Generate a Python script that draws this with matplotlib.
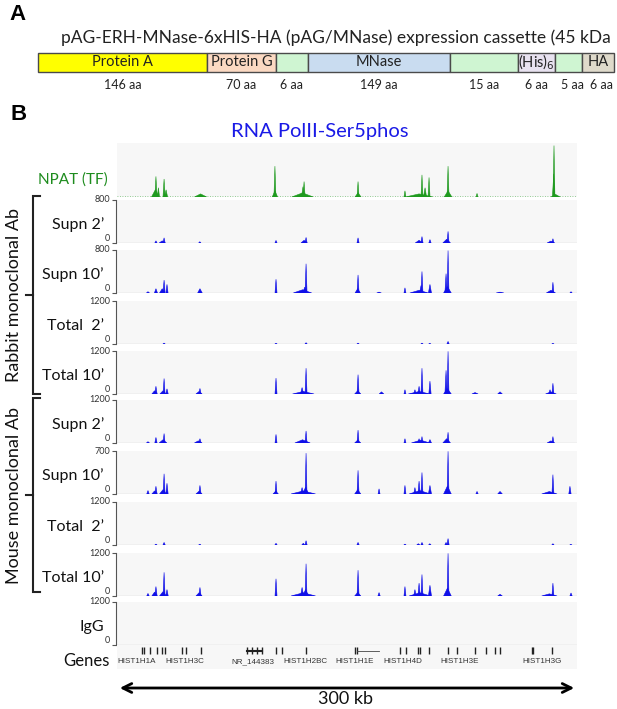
import matplotlib
matplotlib.use("Agg")
import matplotlib.pyplot as plt
from matplotlib.patches import Rectangle

W, H = 617, 709  # output size in pixels

# ---- panel A: expression cassette ----
cassette_title = "pAG-ERH-MNase-6xHIS-HA (pAG/MNase) expression cassette (45 kDa"
segments = ["Protein A", "Protein G", "", "MNase", "", "(His)$_6$", "", "HA"]
segment_aa = [146, 70, 6, 149, 15, 6, 5, 6]
segment_colors = ["#ffff00", "#fbd9c2", "#cff5d2", "#c9dcf0", "#cff5d2", "#e8e2f0", "#cff5d2", "#dfdacb"]

# ---- panel B: genome browser tracks (300 kb window) ----
# each peak: (position kb, signal, base width kb)
npat_peaks = [
    (25.0, 14, 5), (25.4, 40, 1.4), (27.0, 18, 1.5), (30.7, 35, 1.4), (32.0, 14, 2),
    (54.5, 6, 8), (103.0, 60, 1.3), (103.0, 12, 3.5), (121.0, 8, 14), (121.3, 20, 2),
    (122.0, 30, 1.4), (157.2, 30, 1.3), (157.2, 8, 4), (187.8, 12, 1.3), (197.0, 6, 18),
    (198.9, 43, 1.3), (200.9, 18, 2), (203.5, 38, 1.3), (215.9, 60, 1.3), (215.9, 12, 5),
    (234.8, 7, 1.3), (285.0, 100, 1.2), (284.8, 45, 1.6), (286.0, 5, 6),
]
rabbit_supn2 = [
    (25.4, 40, 1.5), (29.5, 40, 4), (30.7, 96, 1.4), (54.0, 24, 1.5), (103.7, 48, 1.4),
    (122.0, 50, 4), (123.3, 104, 1.4), (157.2, 96, 1.4), (197.0, 50, 5), (198.9, 120, 1.4),
    (204.1, 64, 1.5), (215.0, 70, 5), (215.9, 216, 1.3), (283.0, 36, 5), (284.3, 80, 1.4),
]
rabbit_supn10 = [
    (20.2, 24, 2), (25.4, 80, 2), (29.5, 80, 3.5), (30.7, 240, 1.4), (32.6, 160, 1.4),
    (54.1, 80, 3), (103.7, 256, 1.3), (121.0, 60, 12), (122.5, 110, 3), (123.3, 544, 1.3),
    (157.2, 336, 1.3), (157.0, 80, 3.5), (170.9, 16, 3), (187.8, 96, 1.3), (197.0, 50, 12),
    (198.3, 140, 2), (198.9, 400, 1.3), (204.1, 160, 2), (214.6, 360, 1.5), (215.9, 790, 1.2),
    (215.5, 120, 5), (249.8, 16, 5), (283.0, 50, 6), (284.3, 200, 1.3), (296.1, 24, 1.5),
]
rabbit_total2 = [
    (30.7, 24, 1.5), (103.7, 12, 1.5), (123.3, 36, 1.5), (157.2, 24, 1.5), (198.9, 24, 1.5),
    (204.0, 18, 1.5), (215.9, 72, 1.5), (284.3, 18, 1.5),
]
rabbit_total10 = [
    (25.4, 216, 1.5), (24.5, 90, 3.5), (30.7, 432, 1.3), (32.6, 144, 1.6), (30.0, 90, 4),
    (54.1, 156, 1.5), (53.5, 70, 4), (103.7, 444, 1.3), (120.7, 180, 2), (121.5, 70, 14),
    (123.3, 720, 1.3), (157.2, 540, 1.3), (157.0, 90, 4), (172.5, 60, 3), (187.8, 120, 1.3),
    (194.3, 120, 1.6), (197.0, 216, 1.6), (198.9, 720, 1.3), (197.0, 70, 14), (204.1, 360, 1.5),
    (214.6, 660, 1.5), (215.9, 1190, 1.2), (215.5, 150, 5), (233.5, 40, 4), (249.8, 60, 3),
    (282.4, 120, 1.6), (284.3, 300, 1.3), (283.0, 60, 7),
]
mouse_supn2 = [
    (20.2, 36, 2), (25.4, 156, 1.5), (30.7, 264, 1.3), (30.0, 90, 5), (54.1, 120, 1.6),
    (53.0, 60, 5), (103.7, 240, 1.3), (123.3, 336, 1.3), (121.0, 90, 10), (157.2, 360, 1.3),
    (157.0, 80, 4), (187.8, 120, 1.3), (197.0, 120, 1.6), (198.9, 180, 1.3), (198.0, 80, 12),
    (204.1, 96, 2), (215.9, 300, 1.3), (215.0, 120, 5), (284.3, 180, 1.3), (283.0, 60, 5),
]
mouse_supn10 = [
    (20.2, 56, 1.6), (25.4, 126, 1.5), (24.5, 50, 3.5), (30.7, 329, 1.3), (32.6, 175, 1.5),
    (30.0, 70, 4.5), (54.1, 140, 1.5), (53.5, 45, 4), (103.7, 210, 1.3), (103.5, 45, 3.5),
    (120.7, 105, 2), (123.3, 665, 1.2), (121.5, 50, 16), (123.0, 110, 4), (157.2, 385, 1.3),
    (157.0, 70, 4), (170.9, 84, 1.3), (187.8, 140, 1.3), (194.3, 105, 1.6), (197.0, 210, 1.5),
    (198.9, 350, 1.3), (197.5, 55, 14), (204.1, 140, 2), (215.9, 695, 1.2), (215.5, 130, 5),
    (234.8, 42, 1.5), (249.8, 42, 3), (282.0, 40, 10), (284.3, 315, 1.3), (295.4, 126, 1.5),
]
mouse_total2 = [
    (25.4, 24, 1.5), (30.7, 72, 1.5), (54.0, 12, 1.5), (103.7, 48, 1.5), (123.3, 120, 1.4),
    (121.5, 48, 2), (157.2, 72, 1.5), (187.8, 24, 1.5), (196.5, 36, 2), (198.9, 72, 1.5),
    (204.0, 36, 1.6), (215.9, 180, 1.4), (214.6, 72, 1.6), (284.3, 36, 1.5), (296.0, 18, 1.5),
]
mouse_total10 = [
    (20.2, 72, 1.6), (25.4, 264, 1.5), (24.5, 110, 3.5), (30.7, 660, 1.3), (32.6, 180, 1.6),
    (30.0, 120, 4.5), (54.1, 240, 1.5), (53.5, 90, 4), (103.7, 480, 1.3), (120.7, 240, 2),
    (123.3, 900, 1.2), (121.5, 90, 16), (123.0, 180, 4), (157.2, 720, 1.3), (157.0, 100, 4),
    (170.9, 96, 1.5), (187.8, 264, 1.3), (194.3, 180, 1.6), (197.0, 360, 1.5), (198.9, 600, 1.3),
    (197.5, 90, 14), (204.1, 300, 2), (215.9, 1190, 1.2), (215.5, 220, 5), (249.8, 48, 3),
    (282.0, 60, 10), (284.3, 360, 1.3), (296.1, 84, 1.5),
]
igg_peaks = []

track_labels = ["Supn 2\u2019", "Supn 10\u2019", "Total  2\u2019", "Total 10\u2019",
                "Supn 2\u2019", "Supn 10\u2019", "Total  2\u2019", "Total 10\u2019", "IgG"]
track_max = [800, 800, 1200, 1200, 1200, 700, 1200, 1200, 1200]
track_peaks = [rabbit_supn2, rabbit_supn10, rabbit_total2, rabbit_total10,
               mouse_supn2, mouse_supn10, mouse_total2, mouse_total10, igg_peaks]

gene_ticks_kb = [16.5, 17.6, 21.5, 25.9, 29.2, 31.3, 42.2, 45.0, 54.6, 84.6, 87.8, 91.1, 94.4,
                 103.7, 107.4, 123.3, 155.2, 156.5, 184.6, 188.5, 196.3, 197.6, 203.5, 215.9,
                 221.7, 233.5, 240.7, 246.5, 249.8, 270.7, 271.3, 283.7]
gene_names = ["HIST1H1A", "HIST1H3C", "NR_144383", "HIST1H2BC", "HIST1H1E", "HIST1H4D",
              "HIST1H3E", "HIST1H3G"]
gene_name_kb = [13, 44.3, 88.5, 122.6, 155.2, 186.5, 223.7, 277.2]

plt.rcParams['font.family'] = ['Lato', 'DejaVu Sans']
fig = plt.figure(figsize=(W / 100, H / 100), dpi=100)


def box(x0, y0, x1, y1):
    # pixel box (origin top-left) -> figure fraction rect
    return [x0 / W, 1 - y1 / H, (x1 - x0) / W, (y1 - y0) / H]


canvas = fig.add_axes([0, 0, 1, 1])
canvas.set_xlim(0, W)
canvas.set_ylim(H, 0)
canvas.axis('off')

# Panel A
canvas.text(9, 15, "A", fontsize=16, fontweight='bold', family='Liberation Sans', va='center')
canvas.text(336, 38, cassette_title, fontsize=12.5, ha='center', va='center', color='#222222')
edges = [38, 207, 276, 308, 450, 518, 555, 582, 614]
for i, name in enumerate(segments):
    x0, x1 = edges[i], edges[i + 1]
    canvas.add_patch(Rectangle((x0, 53), x1 - x0, 19, fc=segment_colors[i], ec='#4a4a4a', lw=1))
    if name:
        canvas.text((x0 + x1) / 2, 62.5, name, fontsize=10.5, ha='center', va='center', color='#222222')
    canvas.text((x0 + x1) / 2 + (4 if i >= 6 else 0), 85, f"{segment_aa[i]} aa", fontsize=9,
                ha='center', va='center', color='#222222')

# Panel B
canvas.text(11, 114, "B", fontsize=16, fontweight='bold', family='Liberation Sans', va='center')
canvas.text(320, 131, "RNA PolII-Ser5phos", fontsize=14.5, ha='center', va='center', color='#1a1ae6')

X0, X1 = 117, 577
blue = '#1010e8'
green = '#1f9a1f'


def draw_peaks(ax, peaks, color):
    # each peak as a tent: base width w centred on kb, apex at the signal value
    for kb, val, w in peaks:
        ax.fill([kb - w / 2, kb, kb + w / 2], [0, val, 0], color=color, lw=0.4, zorder=3)


# NPAT track
ax = fig.add_axes(box(X0, 143, X1, 197))
ax.set_facecolor('#f7f7f7')
ax.set_xlim(0, 300)
ax.set_ylim(0, 105)
for s in ax.spines.values():
    s.set_visible(False)
ax.set_xticks([])
ax.set_yticks([])
ax.axhline(1.0, color=green, lw=0.6, ls=(0, (1, 2)), alpha=0.6, zorder=2)
draw_peaks(ax, npat_peaks, green)
canvas.text(108, 180, "NPAT (TF)", fontsize=11, ha='right', va='center', color='#1e8c1e')

tops = [200, 250, 301, 351, 400, 451, 502, 553, 602]
for top, label, ymax, peaks in zip(tops, track_labels, track_max, track_peaks):
    ax = fig.add_axes(box(X0, top, X1, top + 43))
    ax.set_facecolor('#f7f7f7')
    ax.set_xlim(0, 300)
    ax.set_ylim(0, ymax)
    for s in ['top', 'right', 'bottom']:
        ax.spines[s].set_visible(False)
    ax.spines['left'].set_color('#555555')
    ax.spines['left'].set_linewidth(0.8)
    ax.spines['left'].set_position(('outward', 1))
    ax.set_xticks([])
    ax.set_yticks([0, ymax])
    ax.set_yticklabels(["0", str(ymax)])
    ax.tick_params(axis='y', length=3, width=0.8, color='#555555', labelsize=6.5,
                   labelcolor='#333333', pad=1)
    lab0, labtop = ax.get_yticklabels()
    lab0.set_va('bottom')
    labtop.set_va('center')
    ax.axhline(0, color='#d8d8d8', lw=1, zorder=1)
    if peaks:
        ax.axhline(ymax * 0.008, color=blue, lw=0.6, ls=(0, (1, 2)), alpha=0.7, zorder=2)
    draw_peaks(ax, peaks, blue)
    canvas.text(104, top + 25, label, fontsize=11.5, ha='right', va='center', color='#111111')

# Genes row
ax = fig.add_axes(box(X0, 645, X1, 669))
ax.set_xlim(0, 300)
ax.set_ylim(0, 1)
ax.axis('off')
ax.add_patch(Rectangle((0, 0), 300, 1, fc='#f7f7f7', ec='none'))
ax.vlines(gene_ticks_kb, 0.62, 0.92, color='#222222', lw=1)
ax.plot([84.6, 94.4], [0.77, 0.77], color='#222222', lw=1.5)
ax.plot([156.5, 170.9], [0.77, 0.77], color='#444444', lw=0.6)
for name, kb in zip(gene_names, gene_name_kb):
    ax.text(kb, 0.3, name, fontsize=5.8, ha='center', va='center', color='#333333',
            family='Liberation Sans')
canvas.text(110, 661, "Genes", fontsize=12, ha='right', va='center', color='#111111')

# brackets and group labels
for y0, y1, name in [(196, 394, "Rabbit monoclonal Ab"), (398, 592, "Mouse monoclonal Ab")]:
    mid = (y0 + y1) / 2
    canvas.plot([40, 33, 33, 40], [y0, y0, y1, y1], color='#222222', lw=1.5,
                solid_joinstyle='miter')
    canvas.plot([33, 26], [mid, mid], color='#222222', lw=1.5)
    canvas.text(14, mid, name, fontsize=13, rotation=90, ha='center', va='center', color='#111111')

# scale arrow
canvas.annotate('', xy=(X0, 688), xytext=(X1, 688),
                arrowprops=dict(arrowstyle='<->', lw=2, color='black', mutation_scale=16))
canvas.text(345, 699, "300 kb", fontsize=13, ha='center', va='center', color='#111111')

fig.savefig("out.png", dpi=100)
